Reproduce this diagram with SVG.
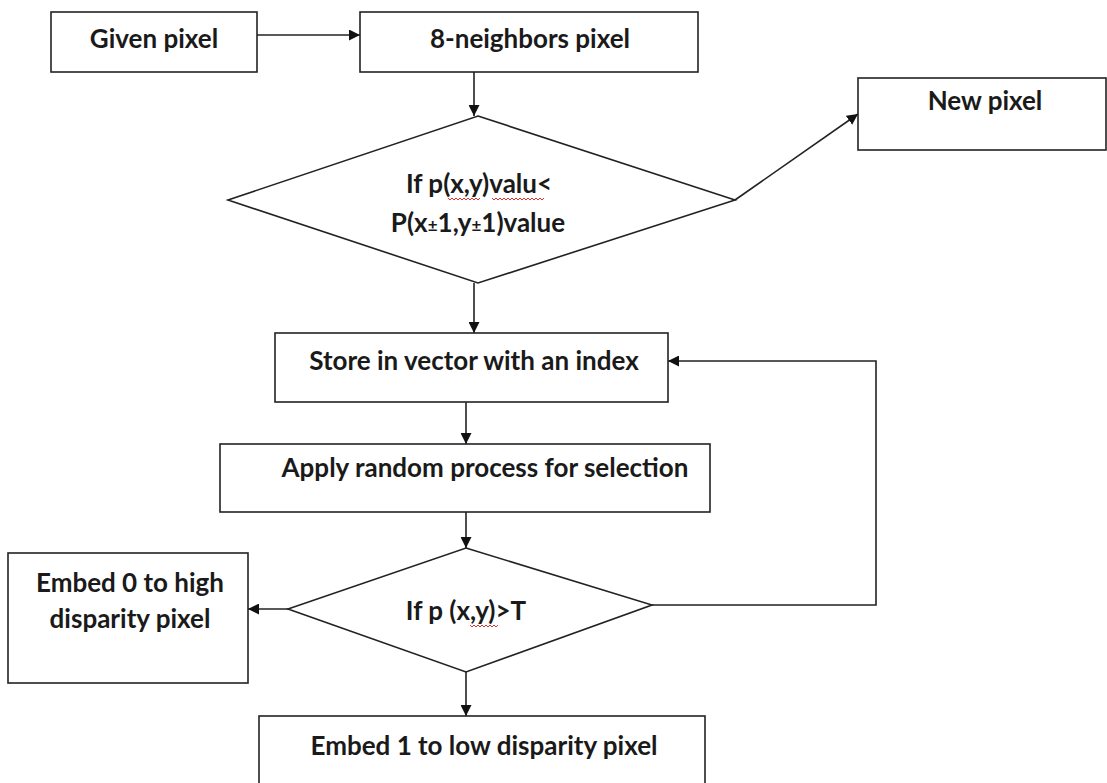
<svg xmlns="http://www.w3.org/2000/svg" width="1107" height="783" viewBox="0 0 1107 783">
  <style>
    .box { fill: #ffffff; stroke: #222222; stroke-width: 1.6; }
    .dia { fill: #ffffff; stroke: #222222; stroke-width: 1.6; }
    .lbl { font-family: Lato, "Open Sans", "Liberation Sans", sans-serif; font-weight: 700; font-size: 26px; fill: #1a1a1a; text-anchor: middle; }
    .pm { font-size: 17px; }
    .edge { fill: none; stroke: #222222; stroke-width: 1.6; }
    .squiggle { fill: none; stroke: #e03030; stroke-width: 1; }
  </style>
  <defs>
    <marker id="arrow" viewBox="0 0 10 10" refX="10" refY="5" markerWidth="11" markerHeight="11" markerUnits="userSpaceOnUse" orient="auto">
      <path d="M0,0 L10,5 L0,10 z" fill="#111111"/>
    </marker>
  </defs>

  <rect width="1107" height="783" fill="#ffffff"/>

  <!-- connectors -->
  <g id="connectors">
    <line class="edge" x1="257" y1="35" x2="360" y2="35" marker-end="url(#arrow)"/>
    <line class="edge" x1="474" y1="72" x2="474" y2="116" marker-end="url(#arrow)"/>
    <line class="edge" x1="735" y1="200" x2="858" y2="114" marker-end="url(#arrow)"/>
    <line class="edge" x1="474" y1="283" x2="474" y2="333" marker-end="url(#arrow)"/>
    <line class="edge" x1="466" y1="402" x2="466" y2="444" marker-end="url(#arrow)"/>
    <line class="edge" x1="466" y1="512" x2="466" y2="548" marker-end="url(#arrow)"/>
    <polyline class="edge" points="652,605 876,605 876,361 668,361" marker-end="url(#arrow)"/>
    <line class="edge" x1="288" y1="609" x2="248" y2="609" marker-end="url(#arrow)"/>
    <line class="edge" x1="466" y1="672" x2="466" y2="716" marker-end="url(#arrow)"/>
  </g>

  <!-- nodes -->
  <g id="given-pixel">
    <rect class="box" x="51" y="12" width="206" height="60"/>
    <text class="lbl" x="154" y="48">Given pixel</text>
  </g>

  <g id="neighbors">
    <rect class="box" x="360" y="12" width="338" height="60"/>
    <text class="lbl" x="530" y="48">8-neighbors pixel</text>
  </g>

  <g id="compare-neighbors">
    <polygon class="dia" points="478,116 735,200 478,283 228,200"/>
    <text class="lbl" x="479" y="193">If p(x,y)valu&lt;</text>
    <text class="lbl" x="478" y="232">P(x<tspan class="pm">±</tspan>1,y<tspan class="pm">±</tspan>1)value</text>
    <path class="squiggle" d="M448,198 l2,2 l2,-2 l2,2 l2,-2 l2,2 l2,-2 l2,2 l2,-2 l2,2 l2,-2 l2,2 l2,-2 l2,2 l2,-2 l2,2 l2,-2"/>
    <path class="squiggle" d="M492,198 l2,2 l2,-2 l2,2 l2,-2 l2,2 l2,-2 l2,2 l2,-2 l2,2 l2,-2 l2,2 l2,-2 l2,2 l2,-2 l2,2 l2,-2 l2,2 l2,-2 l2,2 l2,-2 l2,2 l2,-2 l2,2 l2,-2 l2,2 l2,-2"/>
  </g>

  <g id="new-pixel">
    <rect class="box" x="858" y="78" width="248" height="72"/>
    <text class="lbl" x="985" y="110">New pixel</text>
  </g>

  <g id="store-vector">
    <rect class="box" x="275" y="333" width="393" height="69"/>
    <text class="lbl" x="474" y="370">Store in vector with an index</text>
  </g>

  <g id="random-select">
    <rect class="box" x="220" y="444" width="490" height="68"/>
    <text class="lbl" x="485" y="477">Apply random process for selection</text>
  </g>

  <g id="threshold">
    <polygon class="dia" points="466,548 652,605 466,672 288,609"/>
    <text class="lbl" x="466" y="620">If p (x,y)&gt;T</text>
    <path class="squiggle" d="M470,625 l2,2 l2,-2 l2,2 l2,-2 l2,2 l2,-2 l2,2 l2,-2 l2,2 l2,-2 l2,2 l2,-2 l2,2 l2,-2"/>
  </g>

  <g id="embed-zero">
    <rect class="box" x="8" y="553" width="240" height="130"/>
    <text class="lbl" x="130" y="592">Embed 0 to high</text>
    <text class="lbl" x="130" y="628">disparity pixel</text>
  </g>

  <g id="embed-one">
    <rect class="box" x="259" y="716" width="446" height="80"/>
    <text class="lbl" x="484" y="755">Embed 1 to low disparity pixel</text>
  </g>
</svg>
